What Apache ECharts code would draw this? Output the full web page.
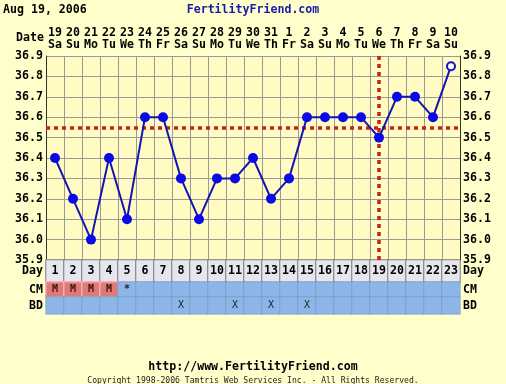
<!DOCTYPE html>
<html><head><meta charset="utf-8">
<script src="https://cdn.jsdelivr.net/npm/echarts@6/dist/echarts.min.js"></script>
<style>html,body{margin:0;padding:0;background:#FFFFCC;}#c{width:506px;height:384px;}</style>
</head><body><div id="c"></div>
<script>
const cycleDays = ['1','2','3','4','5','6','7','8','9','10','11','12','13','14','15','16','17','18','19','20','21','22','23'];
const dates = ['19','20','21','22','23','24','25','26','27','28','29','30','31','1','2','3','4','5','6','7','8','9','10'];
const weekdays = ['Sa','Su','Mo','Tu','We','Th','Fr','Sa','Su','Mo','Tu','We','Th','Fr','Sa','Su','Mo','Tu','We','Th','Fr','Sa','Su'];
const temps = [36.4,36.2,36.0,36.4,36.1,36.6,36.6,36.3,36.1,36.3,36.3,36.4,36.2,36.3,36.6,36.6,36.6,36.6,36.5,36.7,36.7,36.6,36.85];
const openPoints = [22];
const cm = ['M','M','M','M','*','','','','','','','','','','','','','','','','','',''];
const bd = ['','','','','','','','X','','','X','','X','','X','','','','','','','',''];
const coverline = 36.55;
const ovulationDay = 19;
const yMin = 35.9, yMax = 36.9;

const FONT = 'DejaVu Sans Mono';
const F = 11.6;
const L = 46, W = 414;

const chart = echarts.init(document.getElementById('c'));

const tempData = temps.map((v, i) => openPoints.includes(i)
  ? {value: v, symbol: 'emptyCircle', symbolSize: 8, itemStyle: {color: '#1010D0', borderColor: '#1010D0', borderWidth: 1.2}}
  : v);

function rowAxisY(grid, name) {
  return [
    {gridIndex: grid, type: 'category', data: [name], position: 'left', axisLine: {show: false}, axisTick: {show: false},
     axisLabel: {color: '#000', fontFamily: FONT, fontWeight: 'bold', fontSize: F, margin: 3}},
    {gridIndex: grid, type: 'category', data: [name], position: 'right', axisLine: {show: false}, axisTick: {show: false},
     axisLabel: {color: '#000', fontFamily: FONT, fontWeight: 'bold', fontSize: F, margin: 3}}
  ];
}
function rowAxisX(grid) {
  return {gridIndex: grid, type: 'category', data: cycleDays, axisLine: {show: false}, axisTick: {show: false}, axisLabel: {show: false}, splitLine: {show: false}};
}

const dayData = cycleDays.map((d, i) => ({value: [i, 0, 1], name: d, itemStyle: {color: '#E6E6EE', borderColor: '#7A7A7A', borderWidth: 1}}));
const cmData = cm.map((c, i) => ({value: [i, 0, 1], name: c,
  itemStyle: c === 'M' ? {color: '#E07A7A', borderColor: '#F2B0B0', borderWidth: 1.5} : {color: '#8DB6E8', borderColor: '#6E8FBF', borderWidth: 0.5}}));
const bdData = bd.map((c, i) => ({value: [i, 0, 1], name: c, itemStyle: {color: '#8DB6E8', borderColor: '#6E8FBF', borderWidth: 0.5}}));

const option = {
  backgroundColor: '#FFFFCC',
  animation: false,
  title: [
    {text: 'Aug 19, 2006', left: -2, top: -1, textStyle: {fontFamily: FONT, fontWeight: 'bold', fontSize: F, color: '#000'}},
    {text: 'FertilityFriend.com', left: 'center', top: -1, textStyle: {fontFamily: FONT, fontWeight: 'bold', fontSize: F, color: '#1A1AA8'}},
    {text: 'Date', left: 11, top: 27, textStyle: {fontFamily: FONT, fontWeight: 'bold', fontSize: F, color: '#000'}},
    {text: 'http://www.FertilityFriend.com', left: 'center', top: 356, textStyle: {fontFamily: FONT, fontWeight: 'bold', fontSize: F, color: '#000'}},
    {text: 'Copyright 1998-2006 Tamtris Web Services Inc. - All Rights Reserved.', left: 'center', top: 372, textStyle: {fontFamily: FONT, fontWeight: 'normal', fontSize: 8.1, color: '#222'}}
  ],
  grid: [
    {left: L, top: 56, width: W, height: 204, show: true, backgroundColor: '#FFFBC2', borderWidth: 0},
    {left: L, top: 260, width: W, height: 22},
    {left: L, top: 282, width: W, height: 15},
    {left: L, top: 297, width: W, height: 17}
  ],
  xAxis: [
    {gridIndex: 0, type: 'category', data: cycleDays, position: 'top', boundaryGap: true,
     axisLine: {show: false}, axisTick: {show: false},
     splitLine: {show: true, lineStyle: {color: '#9A9A9A', width: 1}},
     axisLabel: {margin: 5, interval: 0, formatter: (v, i) => '{d|' + dates[i] + '}\n{w|' + weekdays[i] + '}',
       rich: {d: {fontFamily: FONT, fontWeight: 'bold', fontSize: F, color: '#000', lineHeight: 12},
              w: {fontFamily: FONT, fontWeight: 'bold', fontSize: F, color: '#000', lineHeight: 12}}}},
    rowAxisX(1), rowAxisX(2), rowAxisX(3)
  ],
  yAxis: [
    {gridIndex: 0, type: 'value', min: yMin, max: yMax, interval: 0.1, position: 'left',
     axisLine: {show: true, lineStyle: {color: '#333', width: 1}}, axisTick: {show: false},
     splitLine: {show: true, lineStyle: {color: '#9A9A9A', width: 1}},
     axisLabel: {margin: 3, color: '#000', fontFamily: FONT, fontWeight: 'bold', fontSize: F, formatter: v => v.toFixed(1)}},
    {gridIndex: 0, type: 'value', min: yMin, max: yMax, interval: 0.1, position: 'right',
     axisLine: {show: true, lineStyle: {color: '#333', width: 1}}, axisTick: {show: false}, splitLine: {show: false},
     axisLabel: {margin: 3, color: '#000', fontFamily: FONT, fontWeight: 'bold', fontSize: F, formatter: v => v.toFixed(1)}},
    ...rowAxisY(1, 'Day'), ...rowAxisY(2, 'CM'), ...rowAxisY(3, 'BD')
  ],
  series: [
    {type: 'line', xAxisIndex: 0, yAxisIndex: 0, data: tempData, symbol: 'circle', symbolSize: 10,
     lineStyle: {color: '#1414B4', width: 2}, itemStyle: {color: '#0A0AE6'},
     markLine: {silent: true, symbol: ['none', 'none'], label: {show: false},
       lineStyle: {color: '#C8201C', width: 3.5, type: [4, 4]},
       data: [{yAxis: coverline}, {xAxis: ovulationDay - 1}]},
     z: 5},
    {type: 'heatmap', xAxisIndex: 1, yAxisIndex: 2, data: dayData,
     label: {show: true, formatter: p => p.name, color: '#000', fontFamily: FONT, fontWeight: 'bold', fontSize: F}},
    {type: 'heatmap', xAxisIndex: 2, yAxisIndex: 4, data: cmData,
     label: {show: true, formatter: p => p.name, color: '#3A1010', fontFamily: FONT, fontWeight: 'bold', fontSize: 10}},
    {type: 'heatmap', xAxisIndex: 3, yAxisIndex: 6, data: bdData,
     label: {show: true, formatter: p => p.name, color: '#222', fontFamily: FONT, fontWeight: 'normal', fontSize: 10}}
  ]
};
chart.setOption(option);
</script></body></html>
